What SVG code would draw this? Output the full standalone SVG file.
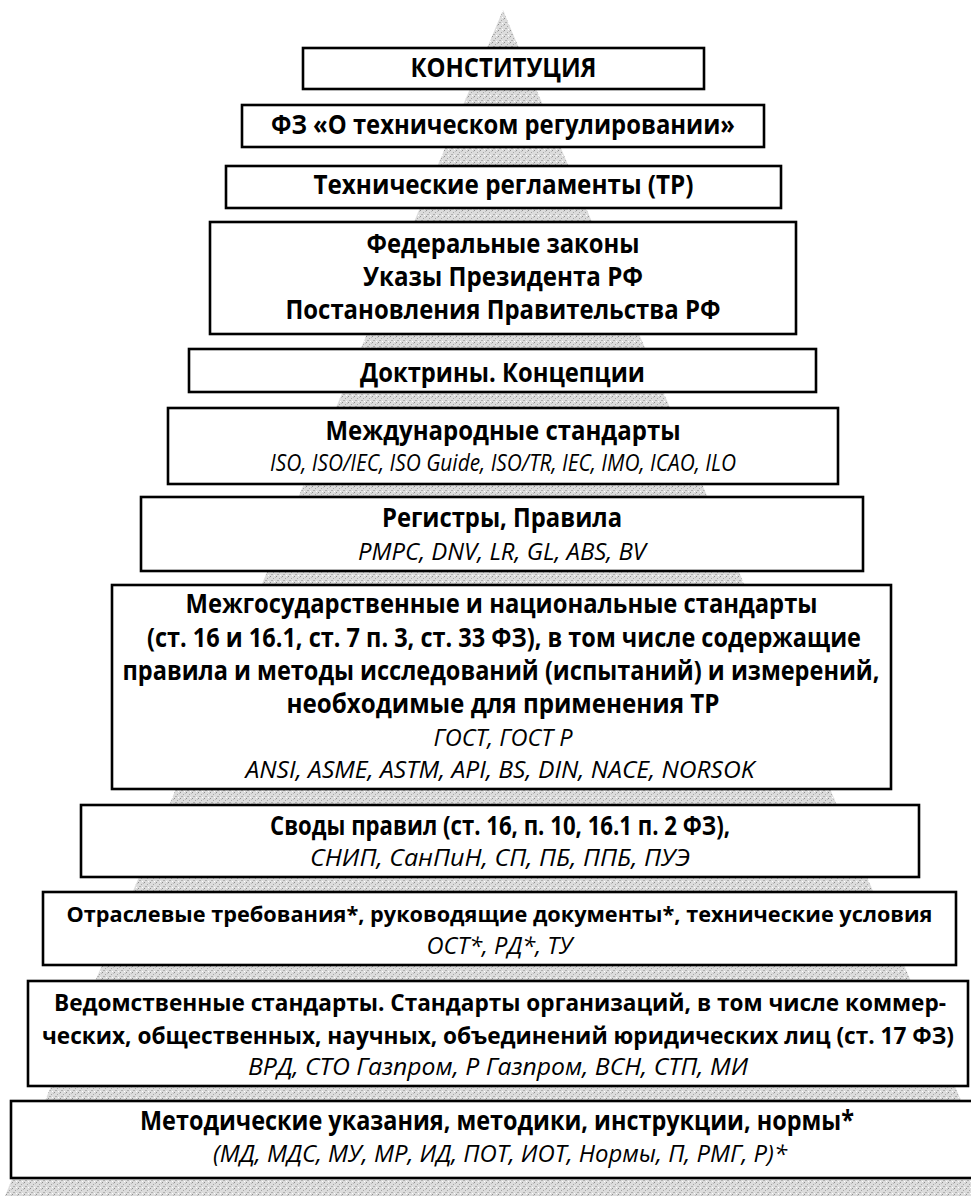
<svg xmlns="http://www.w3.org/2000/svg" width="971" height="1196" viewBox="0 0 971 1196">
<defs>
<pattern id="hatch" width="6" height="6" patternUnits="userSpaceOnUse">
<rect width="6" height="6" fill="#dcdcdc"/>
<rect x="0" y="0" width="1" height="1" fill="#8f8f8f"/>
<rect x="3" y="2" width="1" height="1" fill="#a5a5a5"/>
<rect x="1" y="4" width="2" height="1" fill="#b0b0b0"/>
<rect x="4" y="5" width="1" height="1" fill="#ffffff"/>
<rect x="5" y="1" width="1" height="1" fill="#bdbdbd"/>
</pattern>
<style>
.box{fill:#ffffff;stroke:#000000;stroke-width:2.6}
.b{font-family:"Open Sans","Noto Sans","DejaVu Sans",sans-serif;font-weight:700;font-size:26px;text-anchor:middle;fill:#000}
.s{font-size:23px}
.s2{font-size:21.5px}
.i{font-family:"Open Sans","Noto Sans","DejaVu Sans",sans-serif;font-style:italic;font-weight:400;font-size:24px;text-anchor:middle;fill:#000}
</style>
</defs>
<rect width="971" height="1196" fill="#ffffff"/>
<g id="pyramid">
<polygon points="503,10 5,1196 1001,1196" fill="url(#hatch)"/>
</g>
<g id="connectors"/>
<g id="n1">
<rect class="box" x="303" y="48" width="401" height="41"/>
<text class="b" x="503.5" y="77" textLength="186" lengthAdjust="spacingAndGlyphs">КОНСТИТУЦИЯ</text>
</g>
<g id="n2">
<rect class="box" x="242" y="105" width="522" height="42"/>
<text class="b" x="503" y="134" textLength="464" lengthAdjust="spacingAndGlyphs">ФЗ «О техническом регулировании»</text>
</g>
<g id="n3">
<rect class="box" x="226" y="166" width="555" height="42"/>
<text class="b" x="503.5" y="194" textLength="380" lengthAdjust="spacingAndGlyphs">Технические регламенты (ТР)</text>
</g>
<g id="n4">
<rect class="box" x="210" y="222" width="586" height="112"/>
<text class="b" x="503" y="253" textLength="273" lengthAdjust="spacingAndGlyphs">Федеральные законы</text>
<text class="b" x="503" y="286" textLength="280" lengthAdjust="spacingAndGlyphs">Указы Президента РФ</text>
<text class="b" x="503" y="319" textLength="435" lengthAdjust="spacingAndGlyphs">Постановления Правительства РФ</text>
</g>
<g id="n5">
<rect class="box" x="189" y="349" width="627" height="43"/>
<text class="b" x="502.5" y="382" textLength="285" lengthAdjust="spacingAndGlyphs">Доктрины. Концепции</text>
</g>
<g id="n6">
<rect class="box" x="168" y="408" width="670" height="76"/>
<text class="b" x="503" y="440" textLength="355" lengthAdjust="spacingAndGlyphs">Международные стандарты</text>
<text class="i" x="503" y="471" textLength="466" lengthAdjust="spacingAndGlyphs">ISO, ISO/IEC, ISO Guide, ISO/TR, IEC, IMO, ICAO, ILO</text>
</g>
<g id="n7">
<rect class="box" x="141" y="497" width="722" height="74"/>
<text class="b" x="502" y="527" textLength="240" lengthAdjust="spacingAndGlyphs">Регистры, Правила</text>
<text class="i" x="502" y="560" textLength="288" lengthAdjust="spacingAndGlyphs">PMPC, DNV, LR, GL, ABS, BV</text>
</g>
<g id="n8">
<rect class="box" x="112" y="585" width="779" height="204"/>
<text class="b" x="501.5" y="613" textLength="632" lengthAdjust="spacingAndGlyphs">Межгосударственные и национальные стандарты</text>
<text class="b" x="504" y="647" textLength="714" lengthAdjust="spacingAndGlyphs">(ст. 16 и 16.1, ст. 7 п. 3, ст. 33 ФЗ), в том числе содержащие</text>
<text class="b" x="501" y="680" textLength="757" lengthAdjust="spacingAndGlyphs">правила и методы исследований (испытаний) и измерений,</text>
<text class="b" x="503" y="713" textLength="433" lengthAdjust="spacingAndGlyphs">необходимые для применения ТР</text>
<text class="i" x="503" y="746" textLength="139" lengthAdjust="spacingAndGlyphs">ГОСТ, ГОСТ Р</text>
<text class="i" x="500" y="778" textLength="509" lengthAdjust="spacingAndGlyphs">ANSI, ASME, ASTM, API, BS, DIN, NACE, NORSOK</text>
</g>
<g id="n9">
<rect class="box" x="81" y="805" width="838" height="72"/>
<text class="b" x="500" y="835" textLength="460" lengthAdjust="spacingAndGlyphs">Своды правил (ст. 16, п. 10, 16.1 п. 2 ФЗ),</text>
<text class="i" x="500" y="866" textLength="380" lengthAdjust="spacingAndGlyphs">СНИП, СанПиН, СП, ПБ, ППБ, ПУЭ</text>
</g>
<g id="n10">
<rect class="box" x="43" y="892" width="913" height="73"/>
<text class="b s2" x="499.5" y="922" textLength="866" lengthAdjust="spacingAndGlyphs">Отраслевые требования*, руководящие документы*, технические условия</text>
<text class="i" x="499.5" y="954" textLength="146" lengthAdjust="spacingAndGlyphs">ОСТ*, РД*, ТУ</text>
</g>
<g id="n11">
<rect class="box" x="28" y="981" width="940" height="105"/>
<text class="b s" x="500" y="1011" textLength="892" lengthAdjust="spacingAndGlyphs">Ведомственные стандарты. Стандарты организаций, в том числе коммер-</text>
<text class="b s" x="498" y="1044" textLength="912" lengthAdjust="spacingAndGlyphs">ческих, общественных, научных, объединений юридических лиц (ст. 17 ФЗ)</text>
<text class="i" x="498" y="1075" textLength="500" lengthAdjust="spacingAndGlyphs">ВРД, СТО Газпром, Р Газпром, ВСН, СТП, МИ</text>
</g>
<g id="n12">
<rect class="box" x="11" y="1101" width="980" height="77"/>
<text class="b" x="497" y="1130" textLength="714" lengthAdjust="spacingAndGlyphs">Методические указания, методики, инструкции, нормы*</text>
<text class="i" x="500" y="1162" textLength="574" lengthAdjust="spacingAndGlyphs">(МД, МДС, МУ, МР, ИД, ПОТ, ИОТ, Нормы, П, РМГ, Р)*</text>
</g>
</svg>
